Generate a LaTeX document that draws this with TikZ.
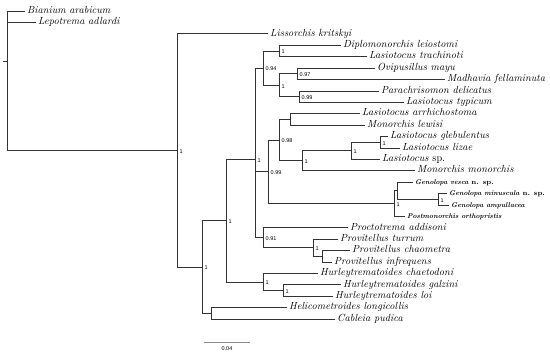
\documentclass[tikz,border=0pt]{standalone}
\usepackage{fontspec}
\newfontfamily\stuetzfont{Liberation Sans}
\usetikzlibrary{positioning}

\begin{document}
\begin{tikzpicture}[x=1pt,y=-1pt,
	ast/.style={line width=0.8pt, draw=black!80},
	taxon/.style={anchor=west, inner xsep=2pt, inner ysep=0pt, text height=6.5pt, text depth=2pt, font=\fontsize{10.3}{11}\selectfont\itshape},
	neutaxon/.style={taxon, font=\fontsize{6.9}{8}\selectfont\bfseries\itshape},
	stuetz/.style={anchor=west, inner sep=0pt, xshift=2.5pt, yshift=-1pt, font=\stuetzfont\fontsize{5.5}{6}\selectfont}]
	\useasboundingbox (0,0) rectangle (550,357);
	
	% Innere Knoten
	\coordinate (R0) at (3,61.3);
	\coordinate (R) at (7,61.3);
	\coordinate (A) at (177,150.4);
	\coordinate (B) at (202,267.0);
	\coordinate (C) at (226,220.6);
	\coordinate (D) at (211,313.4);
	\coordinate (E) at (255,159.2);
	\coordinate (F) at (263,282.0);
	\coordinate (F2) at (283,290.55);
	\coordinate (G) at (263,237.8);
	\coordinate (G2) at (313,247.75);
	\coordinate (G3) at (322,256.3);
	\coordinate (H) at (263,68.05);
	\coordinate (H1) at (279,50.9);
	\coordinate (H2) at (279,85.2);
	\coordinate (H3) at (297,73.75);
	\coordinate (H4) at (299,96.6);
	\coordinate (I) at (268,171.8);
	\coordinate (J) at (279,140.05);
	\coordinate (K) at (290,119.4);
	\coordinate (L) at (302,160.7);
	\coordinate (M) at (351,150.75);
	\coordinate (N) at (380,142.2);
	\coordinate (P) at (394,203.6);
	\coordinate (P2) at (397,190.75);
	\coordinate (Q) at (438,199.3);
	
	% Taxa
	\node[taxon] (bian) at (25,11) {Bianium arabicum};
	\node[taxon] (lepo) at (36,22.4) {Lepotrema adlardi};
	\node[taxon] (liss) at (268,33.8) {Lissorchis kritskyi};
	\node[taxon] (dipl) at (341,45.2) {Diplomonorchis leiostomi};
	\node[taxon] (ltra) at (367,56.6) {Lasiotocus trachinoti};
	\node[taxon] (ovip) at (375,68.0) {Ovipusillus mayu};
	\node[taxon] (madh) at (445,79.5) {Madhavia fellaminuta};
	\node[taxon] (para) at (379,90.9) {Parachrisomon delicatus};
	\node[taxon] (ltyp) at (404,102.3) {Lasiotocus typicum};
	\node[taxon] (larr) at (360,113.7) {Lasiotocus arrhichostoma};
	\node[taxon] (mlew) at (365,125.1) {Monorchis lewisi};
	\node[taxon] (lgle) at (388,136.5) {Lasiotocus glebulentus};
	\node[taxon] (lliz) at (400,147.9) {Lasiotocus lizae};
	\node[taxon] (lsp) at (380,159.3) {Lasiotocus \textup{sp.}};
	\node[taxon] (mmon) at (415,170.7) {Monorchis monorchis};
	\node[neutaxon] (gves) at (413,182.2) {Genolopa vesca \textup{n. sp.}};
	\node[neutaxon] (gmin) at (447,193.6) {Genolopa minuscula \textup{n. sp.}};
	\node[neutaxon] (gamp) at (449,205.0) {Genolopa ampullacea};
	\node[neutaxon] (port) at (405,216.4) {Postmonorchis orthopristis};
	\node[taxon] (proc) at (348,227.8) {Proctotrema addisoni};
	\node[taxon] (ptur) at (338,239.2) {Provitellus turrum};
	\node[taxon] (pcha) at (350,250.6) {Provitellus chaometra};
	\node[taxon] (pinf) at (332,262.0) {Provitellus infrequens};
	\node[taxon] (hcha) at (318,273.4) {Hurleytrematoides chaetodoni};
	\node[taxon] (hgal) at (341,284.8) {Hurleytrematoides galzini};
	\node[taxon] (hloi) at (333,296.3) {Hurleytrematoides loi};
	\node[taxon] (heli) at (287,307.7) {Helicometroides longicollis};
	\node[taxon] (cabl) at (335,319.1) {Cableia pudica};
	
	% Aeste
	\draw[ast] (R0) -- (R);
	\draw[ast] (R) |- (bian.west);
	\draw[ast] (R) |- (lepo.west);
	\draw[ast] (R) |- (A);
	\draw[ast] (A) |- (liss.west);
	\draw[ast] (A) |- (B);
	\draw[ast] (B) |- (C);
	\draw[ast] (B) |- (D);
	\draw[ast] (D) |- (heli.west);
	\draw[ast] (D) |- (cabl.west);
	\draw[ast] (C) |- (E);
	\draw[ast] (C) |- (F);
	\draw[ast] (F) |- (hcha.west);
	\draw[ast] (F) |- (F2);
	\draw[ast] (F2) |- (hgal.west);
	\draw[ast] (F2) |- (hloi.west);
	\draw[ast] (E) |- (H);
	\draw[ast] (E) |- (I);
	\draw[ast] (E) |- (G);
	\draw[ast] (G) |- (proc.west);
	\draw[ast] (G) |- (G2);
	\draw[ast] (G2) |- (ptur.west);
	\draw[ast] (G2) |- (G3);
	\draw[ast] (G3) |- (pcha.west);
	\draw[ast] (G3) |- (pinf.west);
	\draw[ast] (H) |- (H1);
	\draw[ast] (H) |- (H2);
	\draw[ast] (H1) |- (dipl.west);
	\draw[ast] (H1) |- (ltra.west);
	\draw[ast] (H2) |- (H3);
	\draw[ast] (H2) |- (H4);
	\draw[ast] (H3) |- (ovip.west);
	\draw[ast] (H3) |- (madh.west);
	\draw[ast] (H4) |- (para.west);
	\draw[ast] (H4) |- (ltyp.west);
	\draw[ast] (I) |- (J);
	\draw[ast] (I) |- (P);
	\draw[ast] (J) |- (K);
	\draw[ast] (J) |- (L);
	\draw[ast] (K) |- (larr.west);
	\draw[ast] (K) |- (mlew.west);
	\draw[ast] (L) |- (M);
	\draw[ast] (L) |- (mmon.west);
	\draw[ast] (M) |- (N);
	\draw[ast] (M) |- (lsp.west);
	\draw[ast] (N) |- (lgle.west);
	\draw[ast] (N) |- (lliz.west);
	\draw[ast] (P) |- (P2);
	\draw[ast] (P) |- (port.west);
	\draw[ast] (P2) |- (gves.west);
	\draw[ast] (P2) |- (Q);
	\draw[ast] (Q) |- (gmin.west);
	\draw[ast] (Q) |- (gamp.west);
	
	% Stuetzwerte
	\node[stuetz] (sA) at (A) {1};
	\node[stuetz] (sB) at (B) {1};
	\node[stuetz] (sC) at (C) {1};
	\node[stuetz] (sE) at (E) {1};
	\node[stuetz] (sF) at (F) {1};
	\node[stuetz] (sF2) at (F2) {1};
	\node[stuetz] (sG) at (G) {0.91};
	\node[stuetz] (sG2) at (G2) {1};
	\node[stuetz] (sH) at (H) {0.94};
	\node[stuetz] (sH1) at (H1) {1};
	\node[stuetz] (sH2) at (H2) {1};
	\node[stuetz] (sH3) at (H3) {0.97};
	\node[stuetz] (sH4) at (H4) {0.99};
	\node[stuetz] (sI) at (I) {0.99};
	\node[stuetz] (sJ) at (J) {0.98};
	\node[stuetz] (sL) at (L) {1};
	\node[stuetz] (sM) at (M) {1};
	\node[stuetz] (sN) at (N) {1};
	\node[stuetz] (sP) at (P) {1};
	\node[stuetz] (sQ) at (Q) {1};
	
	% Massstab
	\coordinate (sb1) at (204,342);
	\coordinate (sb2) at (250,342);
	\draw[line width=0.8pt, draw=black!45] (sb1) -- (sb2);
	\node[font=\stuetzfont\fontsize{5.5}{6}\selectfont, inner sep=0pt] (sbl) at (227,349) {0.04};
\end{tikzpicture}
\end{document}
